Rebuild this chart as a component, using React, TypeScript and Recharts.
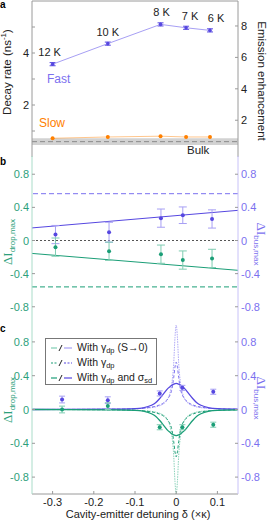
import {
  ComposedChart,
  ErrorBar,
  LabelList,
  Line,
  ReferenceArea,
  ReferenceLine,
  Scatter,
  XAxis,
  YAxis,
} from "recharts"

// ---- panel a: decay rates vs temperature-tuned detuning ----
const tempLabels = ["12 K", "10 K", "8 K", "7 K", "6 K"]
const detuningA = [-0.3, -0.166, -0.038, 0.024, 0.082]
const fastRate = [3.57, 4.36, 5.1, 4.97, 4.87]
const fastErr = [0.06, 0.06, 0.06, 0.06, 0.06]
const slowRate = [0.72, 0.77, 0.8, 0.77, 0.77]
const slowErr = [0.05, 0.05, 0.05, 0.05, 0.05]
const bulkRate = 0.59
const bulkBand = [0.46, 0.72]

// ---- panel b: max intensity change, measured + model ----
const detuningB = [-0.293, -0.163, -0.037, 0.016, 0.087]
const busB = [0.072, 0.1, 0.27, 0.305, 0.26]
const busErrB = [0.11, 0.12, 0.11, 0.1, 0.11]
const dropB = [-0.08, -0.13, -0.165, -0.236, -0.216]
const dropErrB = [0.11, 0.11, 0.11, 0.11, 0.11]
const fitX = [-0.35, 0.15]
const busFit = [0.152, 0.364]
const dropFit = [-0.156, -0.36]
const busLimit = 0.565
const dropLimit = -0.56

// ---- panel c: detuning scan ----
const detuningC = [-0.277, -0.166, -0.04, 0.015, 0.09]
const busC = [0.118, 0.11, 0.19, 0.256, 0.21]
const busErrC = [0.04, 0.04, 0.03, 0.03, 0.03]
const dropC = [0.0, 0.04, -0.21, -0.21, -0.18]
const dropErrC = [0.04, 0.04, 0.03, 0.03, 0.03]

const curveX = [
  -0.35, -0.15, -0.1, -0.08, -0.06, -0.05, -0.04, -0.03, -0.02, -0.015, -0.01, -0.006, -0.003, 0,
  0.003, 0.006, 0.01, 0.015, 0.02, 0.03, 0.04, 0.05, 0.06, 0.08, 0.1, 0.15,
]
const busNoS = [
  0, 0.004, 0.009, 0.014, 0.022, 0.03, 0.045, 0.07, 0.13, 0.2, 0.33, 0.55, 0.85, 1.0,
  0.85, 0.55, 0.33, 0.2, 0.13, 0.07, 0.045, 0.03, 0.022, 0.014, 0.009, 0.004,
]
const busDp = [
  0, 0.004, 0.01, 0.016, 0.028, 0.038, 0.055, 0.08, 0.13, 0.17, 0.25, 0.38, 0.5, 0.56,
  0.5, 0.38, 0.25, 0.17, 0.13, 0.08, 0.055, 0.038, 0.028, 0.016, 0.01, 0.004,
]
const busDpSd = [
  0, 0.004, 0.01, 0.02, 0.05, 0.08, 0.13, 0.19, 0.25, 0.27, 0.29, 0.3, 0.305, 0.31,
  0.305, 0.3, 0.29, 0.27, 0.25, 0.19, 0.13, 0.08, 0.05, 0.02, 0.01, 0.004,
]
const dropNoS = [
  0, -0.004, -0.009, -0.014, -0.022, -0.03, -0.045, -0.07, -0.13, -0.2, -0.33, -0.55, -0.85, -1.0,
  -0.85, -0.55, -0.33, -0.2, -0.13, -0.07, -0.045, -0.03, -0.022, -0.014, -0.009, -0.004,
]
const dropDp = [
  0, -0.004, -0.01, -0.016, -0.028, -0.038, -0.055, -0.08, -0.13, -0.17, -0.25, -0.38, -0.5, -0.56,
  -0.5, -0.38, -0.25, -0.17, -0.13, -0.08, -0.055, -0.038, -0.028, -0.016, -0.01, -0.004,
]
const dropDpSd = [
  0, -0.004, -0.01, -0.02, -0.05, -0.08, -0.13, -0.19, -0.25, -0.27, -0.29, -0.3, -0.305, -0.31,
  -0.305, -0.3, -0.29, -0.27, -0.25, -0.19, -0.13, -0.08, -0.05, -0.02, -0.01, -0.004,
]

const xTicks = [-0.3, -0.2, -0.1, 0, 0.1]
const dTicks = [-0.8, -0.6, -0.4, -0.2, 0, 0.2, 0.4, 0.6, 0.8]

const FONT = "'Liberation Sans', Arial, sans-serif"
const GREEN = "#1b9e77"
const GREEN_TEXT = "#2d9f7b"
const GREEN_AXIS = "#a9dcc9"
const GREEN_LIGHT = "#7fcdb2"
const PURPLE = "#5647e0"
const PURPLE_TEXT = "#7b70ef"
const PURPLE_AXIS = "#c8c2f8"
const PURPLE_LIGHT = "#a79ff4"
const ORANGE = "#ff8000"
const FRAME = "#9a9a9a"
const INK = "#222"

const toPoints = (xs: number[], ys: number[], errs?: number[]) =>
  xs.map((x, i) => ({ x, y: ys[i], err: errs ? errs[i] : 0 }))

const fmt = (v: number) => (Math.abs(v) < 1e-9 ? "0" : String(Math.round(v * 10) / 10))

const leftTick = (color: string, show: (v: number) => boolean) => (p: any) => (
  <g>
    <line x1={p.x} x2={p.x + 3} y1={p.y} y2={p.y} stroke={FRAME} />
    {show(p.payload.value) && (
      <text x={p.x - 3} y={p.y} dy={4} textAnchor="end" fontSize={11} fill={color} fontFamily={FONT}>
        {fmt(p.payload.value)}
      </text>
    )}
  </g>
)

const rightTick = (color: string, show: (v: number) => boolean) => (p: any) => (
  <g>
    <line x1={p.x - 3} x2={p.x} y1={p.y} y2={p.y} stroke={FRAME} />
    {show(p.payload.value) && (
      <text x={p.x + 3} y={p.y} dy={4} textAnchor="start" fontSize={11} fill={color} fontFamily={FONT}>
        {fmt(p.payload.value)}
      </text>
    )}
  </g>
)

const bottomTick = (labels: boolean) => (p: any) => (
  <g>
    <line x1={p.x} x2={p.x} y1={p.y} y2={p.y - 3} stroke={FRAME} />
    {labels && (
      <text x={p.x} y={p.y + 11.5} textAnchor="middle" fontSize={11} fill={INK} fontFamily={FONT}>
        {fmt(p.payload.value)}
      </text>
    )}
  </g>
)

const everyOther = (v: number) => Math.round(v * 10) % 4 === 0
const LABEL_DX = [-3, 0, 1, 4, 6]

const tempLabel = (p: any) => (
  <text
    x={p.x + LABEL_DX[p.index]}
    y={p.y - 8}
    textAnchor="middle"
    fontSize={11}
    fill={INK}
    fontFamily={FONT}
  >
    {p.value}
  </text>
)

const dot = (color: string) => (p: any) => <circle cx={p.cx} cy={p.cy} r={2} fill={color} />

function Rotated({ x, y, deg, color, size = 11.5, children }: any) {
  return (
    <div
      style={{
        position: "absolute",
        left: x,
        top: y,
        transform: `translate(-50%, -50%) rotate(${deg}deg)`,
        whiteSpace: "nowrap",
        color,
        fontSize: size,
        fontFamily: FONT,
        lineHeight: 1,
      }}
    >
      {children}
    </div>
  )
}

const DeltaI = ({ sub }: { sub: string }) => (
  <span>
    <span style={{ fontFamily: "'Liberation Serif', serif", fontSize: 13 }}>ΔI</span>
    <span style={{ fontSize: 8, position: "relative", top: 3 }}>{sub}</span>
  </span>
)

function LegendRow({ dash, light, text }: { dash?: string; light?: boolean; text: any }) {
  const g = light ? GREEN_LIGHT : GREEN
  const p = light ? PURPLE_LIGHT : PURPLE
  return (
    <div style={{ display: "flex", alignItems: "center", height: 15, whiteSpace: "nowrap" }}>
      <svg width={21} height={10} style={{ marginLeft: 5, marginRight: 5, flex: "none" }}>
        <line x1={0} x2={6} y1={5} y2={5} stroke={g} strokeWidth={1.2} strokeDasharray={dash} />
        <line x1={8} x2={11} y1={8} y2={2} stroke={INK} strokeWidth={1} />
        <line x1={13} x2={21} y1={5} y2={5} stroke={p} strokeWidth={1.2} strokeDasharray={dash} />
      </svg>
      <span>{text}</span>
    </div>
  )
}

const Gdp = () => (
  <>
    γ<span style={{ fontSize: 7.5, position: "relative", top: 2 }}>dp</span>
  </>
)

export default function App() {
  const fastData = detuningA.map((x, i) => ({ x, y: fastRate[i], err: fastErr[i], label: tempLabels[i] }))
  const slowData = toPoints(detuningA, slowRate, slowErr)

  const busBData = toPoints(detuningB, busB, busErrB)
  const dropBData = toPoints(detuningB, dropB, dropErrB)
  const busFitData = toPoints(fitX, busFit)
  const dropFitData = toPoints(fitX, dropFit)

  const busCData = toPoints(detuningC, busC, busErrC)
  const dropCData = toPoints(detuningC, dropC, dropErrC)

  const xAxisProps = {
    type: "number" as const,
    dataKey: "x",
    domain: [-0.35, 0.15],
    ticks: xTicks,
    allowDataOverflow: true,
    tickSize: 0,
    tickMargin: 0,
    tickLine: false,
    stroke: FRAME,
  }

  return (
    <div
      style={{
        position: "absolute",
        left: 0,
        top: 0,
        width: 269,
        height: 520,
        background: "#fff",
        fontFamily: FONT,
        overflow: "hidden",
      }}
    >
      {/* panel a */}
      <div style={{ position: "absolute", left: 0, top: 0 }}>
        <ComposedChart width={269} height={157} margin={{ top: 1, right: 0, bottom: 0, left: 0 }}>
          <XAxis {...xAxisProps} height={0} tick={bottomTick(false)} />
          <YAxis
            yAxisId="l"
            width={32}
            domain={[0, 6]}
            ticks={[1, 2, 3, 4, 5]}
            allowDataOverflow
            tickSize={0}
            tickMargin={0}
            tickLine={false}
            stroke={FRAME}
            tick={leftTick(INK, (v) => v % 2 === 0)}
          />
          <YAxis
            yAxisId="r"
            orientation="right"
            width={31}
            domain={[-0.34, 9.59]}
            ticks={[0, 2, 4, 6, 8]}
            allowDataOverflow
            tickSize={0}
            tickMargin={0}
            tickLine={false}
            stroke={FRAME}
            tick={rightTick(INK, () => true)}
          />
          <ReferenceArea yAxisId="l" y1={bulkBand[0]} y2={bulkBand[1]} fill="#d2d2d2" fillOpacity={1} stroke="none" />
          <ReferenceLine yAxisId="l" y={bulkRate} stroke="#8a8a8a" strokeDasharray="5 3" />
          <ReferenceLine yAxisId="l" y={6} stroke={FRAME} />
          <Line
            yAxisId="l"
            data={slowData}
            dataKey="y"
            stroke={ORANGE}
            strokeOpacity={0.45}
            strokeWidth={1}
            dot={{ r: 2, fill: ORANGE, stroke: ORANGE, strokeWidth: 0 }}
            isAnimationActive={false}
          >
            <ErrorBar dataKey="err" direction="y" width={0} stroke={ORANGE} strokeWidth={1.2} />
          </Line>
          <Line
            yAxisId="l"
            data={fastData}
            dataKey="y"
            stroke={PURPLE_LIGHT}
            strokeWidth={1}
            dot={{ r: 1.8, fill: PURPLE, stroke: PURPLE, strokeWidth: 0 }}
            isAnimationActive={false}
          >
            <ErrorBar dataKey="err" direction="y" width={3} stroke={PURPLE} strokeWidth={1} />
            <LabelList dataKey="label" content={tempLabel} />
          </Line>
        </ComposedChart>
      </div>

      {/* panel b */}
      <div style={{ position: "absolute", left: 0, top: 156 }}>
        <ComposedChart width={269} height={169} margin={{ top: 0, right: 0, bottom: 0, left: 0 }}>
          <XAxis {...xAxisProps} height={0} tick={bottomTick(false)} />
          <YAxis
            yAxisId="l"
            width={32}
            domain={[-1.02, 1.02]}
            ticks={dTicks}
            allowDataOverflow
            tickSize={0}
            tickMargin={0}
            tickLine={false}
            stroke={GREEN_AXIS}
            tick={leftTick(GREEN_TEXT, everyOther)}
          />
          <YAxis
            yAxisId="r"
            orientation="right"
            width={31}
            domain={[-1.02, 1.02]}
            ticks={dTicks}
            allowDataOverflow
            tickSize={0}
            tickMargin={0}
            tickLine={false}
            stroke={PURPLE_AXIS}
            tick={rightTick(PURPLE_TEXT, everyOther)}
          />
          <ReferenceLine yAxisId="l" y={0} stroke="#555" strokeDasharray="2 2" />
          <ReferenceLine yAxisId="r" y={busLimit} stroke={PURPLE_TEXT} strokeDasharray="5 3" />
          <ReferenceLine yAxisId="l" y={dropLimit} stroke={GREEN} strokeDasharray="5 3" />
          <Line yAxisId="r" data={busFitData} dataKey="y" stroke={PURPLE} strokeWidth={1} dot={false} isAnimationActive={false} />
          <Line yAxisId="l" data={dropFitData} dataKey="y" stroke={GREEN} strokeWidth={1} dot={false} isAnimationActive={false} />
          <Scatter yAxisId="r" data={busBData} dataKey="y" shape={dot(PURPLE)} isAnimationActive={false}>
            <ErrorBar dataKey="err" direction="y" width={4} stroke={PURPLE_LIGHT} strokeWidth={1} />
          </Scatter>
          <Scatter yAxisId="l" data={dropBData} dataKey="y" shape={dot(GREEN)} isAnimationActive={false}>
            <ErrorBar dataKey="err" direction="y" width={4} stroke={GREEN_LIGHT} strokeWidth={1} />
          </Scatter>
        </ComposedChart>
      </div>

      {/* panel c */}
      <div style={{ position: "absolute", left: 0, top: 325 }}>
        <ComposedChart width={269} height={195} margin={{ top: 0, right: 0, bottom: 0, left: 0 }}>
          <XAxis {...xAxisProps} height={26} tick={bottomTick(true)} />
          <YAxis
            yAxisId="l"
            width={32}
            domain={[-1, 1]}
            ticks={dTicks}
            allowDataOverflow
            tickSize={0}
            tickMargin={0}
            tickLine={false}
            stroke={GREEN_AXIS}
            tick={leftTick(GREEN_TEXT, everyOther)}
          />
          <YAxis
            yAxisId="r"
            orientation="right"
            width={31}
            domain={[-1, 1]}
            ticks={dTicks}
            allowDataOverflow
            tickSize={0}
            tickMargin={0}
            tickLine={false}
            stroke={PURPLE_AXIS}
            tick={rightTick(PURPLE_TEXT, everyOther)}
          />
          <Line yAxisId="r" data={toPoints(curveX, busNoS)} dataKey="y" type="monotone" stroke={PURPLE_LIGHT} strokeWidth={0.9} strokeDasharray="1.5 1" dot={false} isAnimationActive={false} />
          <Line yAxisId="l" data={toPoints(curveX, dropNoS)} dataKey="y" type="monotone" stroke={GREEN_LIGHT} strokeWidth={0.9} strokeDasharray="1.5 1" dot={false} isAnimationActive={false} />
          <Line yAxisId="r" data={toPoints(curveX, busDp)} dataKey="y" type="monotone" stroke={PURPLE_TEXT} strokeWidth={1} strokeDasharray="3 2" dot={false} isAnimationActive={false} />
          <Line yAxisId="l" data={toPoints(curveX, dropDp)} dataKey="y" type="monotone" stroke={GREEN} strokeWidth={1} strokeDasharray="3 2" dot={false} isAnimationActive={false} />
          <Line yAxisId="r" data={toPoints(curveX, busDpSd)} dataKey="y" type="monotone" stroke={PURPLE} strokeWidth={1.3} dot={false} isAnimationActive={false} />
          <Line yAxisId="l" data={toPoints(curveX, dropDpSd)} dataKey="y" type="monotone" stroke={GREEN} strokeWidth={1.3} dot={false} isAnimationActive={false} />
          <Scatter yAxisId="r" data={busCData} dataKey="y" shape={dot(PURPLE)} isAnimationActive={false}>
            <ErrorBar dataKey="err" direction="y" width={3} stroke={PURPLE_LIGHT} strokeWidth={1} />
          </Scatter>
          <Scatter yAxisId="l" data={dropCData} dataKey="y" shape={dot(GREEN)} isAnimationActive={false}>
            <ErrorBar dataKey="err" direction="y" width={3} stroke={GREEN_LIGHT} strokeWidth={1} />
          </Scatter>
        </ComposedChart>
      </div>

      {/* legend for c */}
      <div
        style={{
          position: "absolute",
          left: 45,
          top: 338,
          width: 112,
          height: 47,
          boxSizing: "border-box",
          border: "1px solid #777",
          background: "#fff",
          fontSize: 10.5,
          color: INK,
          paddingTop: 1,
          lineHeight: 1,
        }}
      >
        <LegendRow light text={<>With <Gdp /> (S→0)</>} />
        <LegendRow dash="2 1.5" text={<>With <Gdp /></>} />
        <LegendRow
          text={
            <>
              With <Gdp /> and σ<span style={{ fontSize: 7.5, position: "relative", top: 2 }}>sd</span>
            </>
          }
        />
      </div>

      {/* annotations */}
      <div style={{ position: "absolute", left: 0, top: 0, fontSize: 10, fontWeight: "bold", lineHeight: 1 }}>a</div>
      <div style={{ position: "absolute", left: 0, top: 157, fontSize: 10, fontWeight: "bold", lineHeight: 1 }}>b</div>
      <div style={{ position: "absolute", left: 0, top: 324, fontSize: 10, fontWeight: "bold", lineHeight: 1 }}>c</div>
      <div style={{ position: "absolute", left: 47, top: 72, fontSize: 12, color: PURPLE_TEXT }}>Fast</div>
      <div style={{ position: "absolute", left: 39, top: 116, fontSize: 12, color: ORANGE }}>Slow</div>
      <div style={{ position: "absolute", left: 187, top: 144, fontSize: 11.5, color: INK }}>Bulk</div>

      <Rotated x={7} y={72} deg={-90} color={INK}>
        Decay rate (ns<sup style={{ fontSize: 8 }}>-1</sup>)
      </Rotated>
      <Rotated x={261} y={81} deg={90} color={INK}>
        Emission enhancement
      </Rotated>
      <Rotated x={8} y={242} deg={-90} color={GREEN_TEXT}>
        <DeltaI sub="drop,max" />
      </Rotated>
      <Rotated x={261} y={244} deg={90} color={PURPLE_TEXT}>
        <DeltaI sub="bus,max" />
      </Rotated>
      <Rotated x={8} y={400} deg={-90} color={GREEN_TEXT}>
        <DeltaI sub="drop,max" />
      </Rotated>
      <Rotated x={261} y={398} deg={90} color={PURPLE_TEXT}>
        <DeltaI sub="bus,max" />
      </Rotated>
      <div
        style={{
          position: "absolute",
          left: 138,
          top: 509,
          transform: "translateX(-50%)",
          whiteSpace: "nowrap",
          fontSize: 11,
          color: INK,
          lineHeight: 1,
        }}
      >
        Cavity-emitter detuning δ (×κ)
      </div>
    </div>
  )
}
